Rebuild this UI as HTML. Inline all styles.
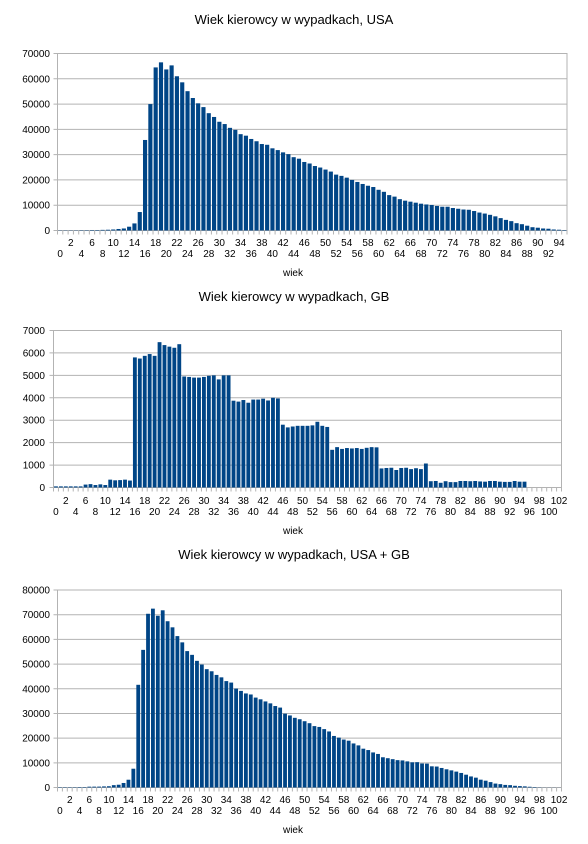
<!DOCTYPE html>
<html><head><meta charset="utf-8">
<style>
html,body{margin:0;padding:0;background:#fff;}
svg{display:block;font-family:"Liberation Sans",Arial,sans-serif;}
</style></head>
<body>
<svg id="chart" width="588" height="844" viewBox="0 0 588 844" xmlns="http://www.w3.org/2000/svg"></svg>
<script>
const usaValues=[100,100,100,100,150,150,200,200,250,300,400,600,800,1500,2800,7300,35800,50000,64500,66500,63700,65300,61000,58600,55100,52400,50300,48800,46400,44900,43000,42100,40600,39800,38100,37500,36200,35300,34200,33900,32500,31800,30900,30200,29000,28400,27100,26500,25500,24900,24100,23300,22100,21600,20900,20000,19200,18400,17700,17200,16100,15300,14000,13400,12400,11800,11400,11000,10600,10300,10100,9700,9400,9400,8900,8600,8300,8200,7700,7100,6700,6200,5600,4900,4200,3700,2900,2500,1900,1300,1100,800,700,400,300,200];
const gbValues=[50,50,50,50,50,50,130,150,110,140,110,350,320,330,350,310,5800,5750,5870,5950,5870,6480,6350,6280,6230,6390,4950,4930,4900,4900,4930,4980,5000,4820,5000,5000,3870,3830,3900,3780,3920,3920,3960,3880,4000,3970,2800,2680,2720,2750,2750,2750,2770,2930,2750,2700,1680,1800,1720,1760,1740,1760,1720,1770,1800,1790,850,870,880,780,870,880,820,860,820,1070,280,290,210,280,240,240,290,290,280,290,270,260,290,290,260,250,250,290,260,260,0,0,0,0,0,0,0];
const totalValues=[150,150,150,150,200,200,330,350,360,440,510,950,1120,1830,3150,7610,41600,55750,70370,72450,69570,71780,67350,64880,61330,58790,55250,53730,51300,49800,47930,47080,45600,44620,43100,42500,40070,39130,38100,37680,36420,35720,34860,34080,33000,32370,29900,29180,28220,27650,26850,26050,24870,24530,23650,22700,20880,20200,19420,18960,17840,17060,15720,15170,14200,13590,12250,11870,11480,11080,10970,10580,10220,10260,9720,9670,8580,8490,7910,7380,6940,6440,5890,5190,4480,3990,3170,2760,2190,1590,1360,1050,950,690,560,460,300,200,100,50,50,50,30];
const usaTicks=[0,10000,20000,30000,40000,50000,60000,70000];
const gbTicks=[0,1000,2000,3000,4000,5000,6000,7000];
const totalTicks=[0,10000,20000,30000,40000,50000,60000,70000,80000];
const titles=["Wiek kierowcy w wypadkach, USA","Wiek kierowcy w wypadkach, GB","Wiek kierowcy w wypadkach, USA + GB"];

const NS="http://www.w3.org/2000/svg";
const svg=document.getElementById('chart');
function mk(tag,attrs,parent){const e=document.createElementNS(NS,tag);for(const k in attrs)e.setAttribute(k,attrs[k]);(parent||svg).appendChild(e);return e;}

function drawChart(key,title,values,ticks,L,R,T,B,yLabX,titleY,lab1Y,lab2Y,axisTitleY){
  const g=mk('g',{});
  
  
  const n=values.length, maxV=ticks[ticks.length-1];
  const slot=(R-L)/n;
  const xs=i=>L+i*slot;
  const ys=v=>B-(v/maxV)*(B-T);
  const t=mk('text',{x:294,y:titleY,'text-anchor':'middle','font-size':13,fill:'#000'},g);
  t.textContent=title;
  
  
  ticks.forEach(v=>{
    const y=ys(v);
    const gl=mk('line',{x1:L-4,x2:R,y1:y,y2:y,stroke:'#b3b3b3','stroke-width':1},g);
    
    
    const tl=mk('text',{x:yLabX,y:y+3.5,'text-anchor':'end','font-size':10,fill:'#000'},g);
    tl.textContent=v;
    
    
  });
  const box=mk('rect',{x:L,y:T,width:R-L,height:B-T,fill:'none',stroke:'#b3b3b3','stroke-width':1},g);
  
  
  values.forEach((v,i)=>{
    const bw=slot*0.78, x=xs(i)+(slot-bw)/2, y=ys(v);
    const b=mk('rect',{x:x,y:y,width:bw,height:B-y,fill:'#004586'},g);
    
    
  });
  for(let i=0;i<=n;i++){
    const x=xs(i);
    const tk=mk('line',{x1:x,x2:x,y1:B,y2:B+4,stroke:'#b3b3b3','stroke-width':1},g);
    
    
  }
  for(let i=0;i<n;i+=2){
    const cx=xs(i)+slot/2;
    const lt=mk('text',{x:cx,y:(i%4===0)?lab2Y:lab1Y,'text-anchor':'middle','font-size':10,fill:'#000'},g);
    lt.textContent=i;
    
    
  }
  const ax=mk('line',{x1:L,x2:L,y1:T,y2:B,stroke:'#b3b3b3'},g);
  
  
  const at=mk('text',{x:293,y:axisTitleY,'text-anchor':'middle','font-size':10,fill:'#000'},g);
  at.textContent='wiek';
  
  
}
drawChart('usa',titles[0],usaValues,usaTicks,57.5,567,53.5,230.5,50,24,246,257,276);
drawChart('gb',titles[1],gbValues,gbTicks,53.5,561.5,330.5,487.5,45,301,504,515,534);
drawChart('total',titles[2],totalValues,totalTicks,57.5,561.5,590,787.5,50,559,803,814,833);
</script>
</body></html>
